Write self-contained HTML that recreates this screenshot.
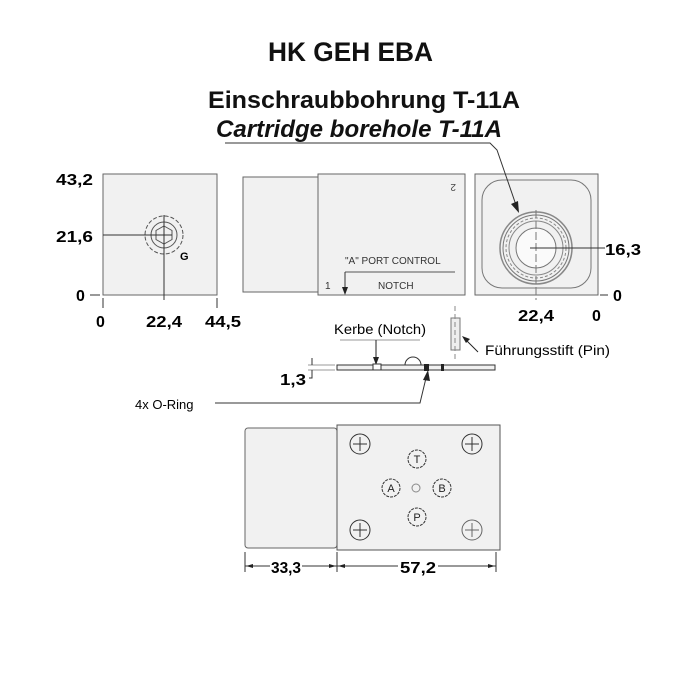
<!DOCTYPE html>
<html><head><style>
body{margin:0;background:#fff}
svg{display:block}
text{font-family:"Liberation Sans",sans-serif}
.d{font-size:16px;font-weight:bold}
</style></head><body>
<svg width="700" height="700" viewBox="0 0 700 700" xmlns="http://www.w3.org/2000/svg">
<text x="268" y="61" font-size="27" font-weight="bold" fill="#111" textLength="165" lengthAdjust="spacingAndGlyphs">HK GEH EBA</text>
<text x="208" y="108" font-size="24" font-weight="bold" fill="#111" textLength="312" lengthAdjust="spacingAndGlyphs">Einschraubbohrung T-11A</text>
<text x="216" y="137" font-size="24" font-weight="bold" font-style="italic" fill="#111" textLength="286" lengthAdjust="spacingAndGlyphs">Cartridge borehole T-11A</text>

<!-- left square -->
<rect x="103" y="174" width="114" height="121" fill="#f1f1f1" stroke="#666"/>
<circle cx="164" cy="235" r="19" fill="none" stroke="#555" stroke-dasharray="4,2"/>
<circle cx="164" cy="235" r="13" fill="none" stroke="#555"/>
<polygon points="164,226 172,230.5 172,239.5 164,244 156,239.5 156,230.5" fill="none" stroke="#555"/>
<line x1="103" y1="235" x2="172" y2="235" stroke="#333"/>
<line x1="164" y1="215" x2="164" y2="300" stroke="#333"/>
<text x="180" y="260" font-size="11" font-weight="bold">G</text>
<line x1="90" y1="295" x2="100" y2="295" stroke="#333"/>
<line x1="103" y1="298" x2="103" y2="308" stroke="#333"/>
<line x1="217" y1="298" x2="217" y2="308" stroke="#333"/>
<text x="56" y="185" class="d" textLength="37" lengthAdjust="spacingAndGlyphs">43,2</text>
<text x="56" y="242" class="d" textLength="37" lengthAdjust="spacingAndGlyphs">21,6</text>
<text x="76" y="301" class="d">0</text>
<text x="96" y="327" class="d">0</text>
<text x="146" y="327" class="d" textLength="36" lengthAdjust="spacingAndGlyphs">22,4</text>
<text x="205" y="327" class="d" textLength="36" lengthAdjust="spacingAndGlyphs">44,5</text>

<!-- middle -->
<rect x="243" y="177" width="75" height="115" fill="#f1f1f1" stroke="#666"/>
<rect x="318" y="174" width="147" height="121" fill="#f1f1f1" stroke="#666"/>
<text x="450" y="192" font-size="10" fill="#444" transform="rotate(180 453 188)">2</text>
<text x="345" y="264" font-size="10" fill="#333">"A" PORT CONTROL</text>
<line x1="345" y1="272" x2="455" y2="272" stroke="#555"/>
<line x1="345" y1="272" x2="345" y2="288" stroke="#333"/>
<polygon points="342,287 348,287 345,295" fill="#222"/>
<text x="325" y="289" font-size="10" fill="#333">1</text>
<text x="378" y="289" font-size="10" fill="#333">NOTCH</text>

<!-- right square -->
<rect x="475" y="174" width="123" height="121" fill="#f1f1f1" stroke="#666"/>
<rect x="482" y="180" width="109" height="108" rx="20" fill="none" stroke="#777"/>
<circle cx="536" cy="248" r="36" fill="none" stroke="#888" stroke-width="1.5"/>
<circle cx="536" cy="248" r="33" fill="none" stroke="#777"/>
<circle cx="536" cy="248" r="30" fill="none" stroke="#888" stroke-dasharray="3,2"/>
<circle cx="536" cy="248" r="27" fill="none" stroke="#888"/>
<circle cx="536" cy="248" r="20" fill="#fafafa" stroke="#777"/>
<line x1="536" y1="210" x2="536" y2="300" stroke="#777" stroke-dasharray="8,3"/>
<line x1="530" y1="248" x2="605" y2="248" stroke="#333"/>
<text x="605" y="255" class="d" textLength="36" lengthAdjust="spacingAndGlyphs">16,3</text>
<line x1="600" y1="295" x2="608" y2="295" stroke="#333"/>
<text x="613" y="301" class="d">0</text>
<text x="518" y="321" class="d" textLength="36" lengthAdjust="spacingAndGlyphs">22,4</text>
<text x="592" y="321" class="d">0</text>

<!-- strip -->
<text x="334" y="334" font-size="14" textLength="92" lengthAdjust="spacingAndGlyphs">Kerbe (Notch)</text>
<line x1="340" y1="340" x2="420" y2="340" stroke="#999"/>
<line x1="376" y1="340" x2="376" y2="358" stroke="#222"/>
<polygon points="373,357 379,357 376,365" fill="#222"/>
<rect x="451" y="318" width="9" height="32" fill="#eee" stroke="#777"/>
<line x1="455" y1="306" x2="455" y2="362" stroke="#888" stroke-dasharray="5,3"/>
<line x1="478" y1="352" x2="466" y2="340" stroke="#222"/>
<polygon points="462,336 470,339 466,343" fill="#222"/>
<text x="485" y="355" font-size="14" textLength="125" lengthAdjust="spacingAndGlyphs">Führungsstift (Pin)</text>
<path d="M405,365 a8,8 0 0 1 16,0" fill="none" stroke="#333"/>
<rect x="337" y="365" width="158" height="5" fill="#f1f1f1" stroke="#333"/>
<rect x="373" y="364" width="8" height="6" fill="#fff" stroke="#333"/>
<rect x="424" y="364" width="5" height="7" fill="#222"/>
<rect x="441" y="364" width="3" height="7" fill="#222"/>
<line x1="308" y1="365" x2="335" y2="365" stroke="#999"/>
<line x1="308" y1="370" x2="335" y2="370" stroke="#999"/>
<path d="M312,358 L312,365 M312,370 L312,378 L309,378" fill="none" stroke="#333"/>
<text x="280" y="385" class="d" textLength="26" lengthAdjust="spacingAndGlyphs">1,3</text>
<text x="135" y="409" font-size="13">4x O-Ring</text>
<path d="M215,403 L420,403 L426,378" fill="none" stroke="#333"/>
<polygon points="428,370 430,381 423,380" fill="#222"/>

<!-- bottom -->
<rect x="245" y="428" width="92" height="120" rx="3" fill="#f1f1f1" stroke="#666"/>
<rect x="337" y="425" width="163" height="125" fill="#f1f1f1" stroke="#555"/>
<g fill="none" stroke="#333">
<circle cx="360" cy="444" r="10"/><path d="M353,444h14M360,437v14"/>
<circle cx="472" cy="444" r="10"/><path d="M465,444h14M472,437v14"/>
<circle cx="360" cy="530" r="10"/><path d="M353,530h14M360,523v14"/>
<circle cx="472" cy="530" r="10" stroke="#666"/><path d="M465,530h14M472,523v14" stroke="#666"/>
<circle cx="417" cy="459" r="9" stroke-dasharray="3,1"/>
<circle cx="391" cy="488" r="9" stroke-dasharray="3,1"/>
<circle cx="442" cy="488" r="9" stroke-dasharray="3,1"/>
<circle cx="417" cy="517" r="9" stroke-dasharray="3,1"/>
<circle cx="416" cy="488" r="4" stroke="#888"/>
</g>
<g font-size="11" text-anchor="middle" fill="#222">
<text x="417" y="463">T</text><text x="391" y="492">A</text><text x="442" y="492">B</text><text x="417" y="521">P</text>
</g>
<line x1="245" y1="552" x2="245" y2="572" stroke="#333"/>
<line x1="337" y1="552" x2="337" y2="572" stroke="#333"/>
<line x1="496" y1="552" x2="496" y2="572" stroke="#333"/>
<line x1="245" y1="566" x2="270" y2="566" stroke="#333"/>
<line x1="302" y1="566" x2="337" y2="566" stroke="#333"/>
<line x1="337" y1="566" x2="398" y2="566" stroke="#333"/>
<line x1="438" y1="566" x2="496" y2="566" stroke="#333"/>
<g fill="#222">
<polygon points="246,566 253,564 253,568"/><polygon points="336,566 329,564 329,568"/>
<polygon points="338,566 345,564 345,568"/><polygon points="495,566 488,564 488,568"/>
</g>
<text x="271" y="573" class="d" textLength="30" lengthAdjust="spacingAndGlyphs">33,3</text>
<text x="400" y="573" class="d" textLength="36" lengthAdjust="spacingAndGlyphs">57,2</text>

<!-- leader on top -->
<path d="M225,143 L490,143 L497,150 L516,205" fill="none" stroke="#333" stroke-width="1"/>
<polygon points="519,213 511,204 518,201" fill="#222"/>
</svg>
</body></html>
